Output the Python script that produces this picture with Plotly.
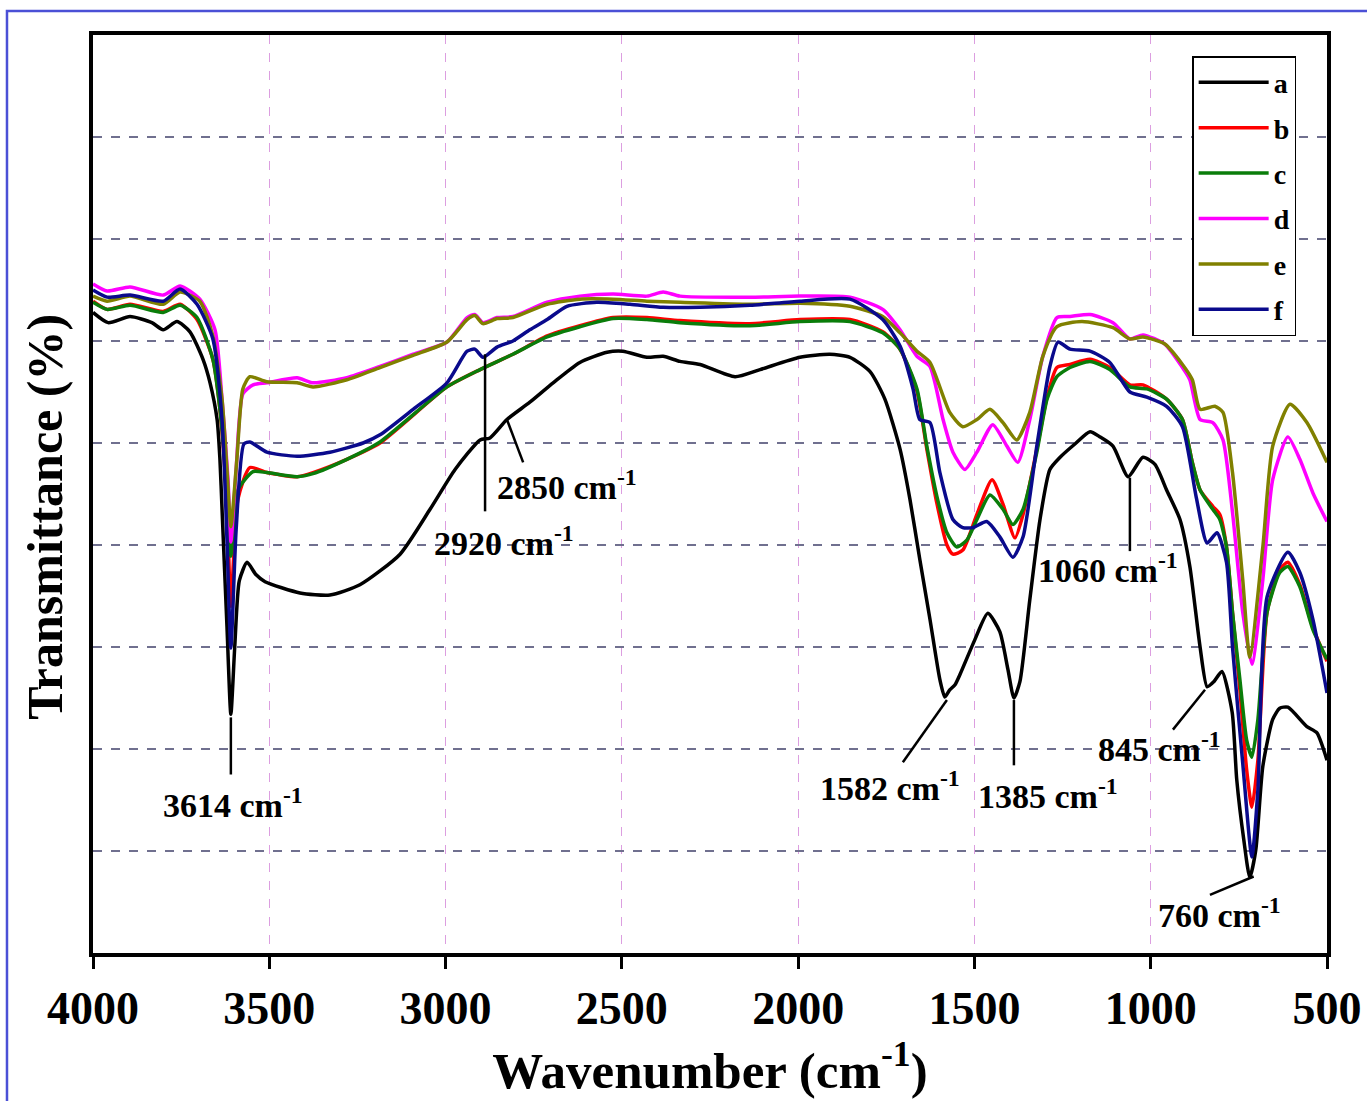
import plotly.graph_objects as go

# ---------------- data ----------------
wn_a = [4000, 3957, 3895, 3833, 3801, 3762, 3725, 3688, 3668, 3648, 3640, 3634, 3620, 3609,
        3598, 3585, 3563, 3538, 3512, 3413, 3328, 3243, 3129, 3044, 2973, 2902, 2874, 2826,
        2761, 2695, 2619, 2542, 2497, 2429, 2383, 2335, 2278, 2179, 2108, 1995, 1910, 1853,
        1796, 1754, 1711, 1683, 1655, 1626, 1598, 1584, 1570, 1555, 1541, 1499, 1462, 1428,
        1405, 1388, 1371, 1343, 1314, 1286, 1257, 1215, 1172, 1144, 1107, 1064, 1022, 988,
        955, 917, 889, 860, 840, 821, 798, 769, 756, 736, 719, 702, 682, 654, 634, 611, 557,
        529, 500]
t_a = [62.8, 61.8, 62.4, 61.8, 61.1, 61.9, 60.9, 58.2, 55.9, 52.3, 48.4, 43.5, 32.0, 23.4,
       30.0, 36.5, 38.3, 37.1, 36.4, 35.3, 35.1, 36.1, 39.1, 43.5, 47.4, 50.3, 50.5, 52.3,
       54.0, 55.9, 57.9, 58.9, 59.0, 58.4, 58.5, 58.0, 57.7, 56.5, 57.2, 58.4, 58.7, 58.4,
       57.0, 54.3, 49.4, 44.5, 38.6, 32.7, 26.8, 25.1, 25.8, 26.3, 27.3, 30.7, 33.3, 31.5,
       27.8, 25.0, 26.6, 34.6, 42.5, 47.4, 48.6, 49.9, 51.1, 50.6, 49.7, 46.7, 48.6, 47.9,
       45.4, 42.5, 37.9, 30.0, 26.1, 26.6, 27.6, 23.6, 17.0, 11.1, 7.4, 10.1, 18.3, 22.9,
       24.0, 24.1, 22.2, 21.6, 18.9]

wn_b = [4000, 3960, 3895, 3801, 3753, 3705, 3660, 3640, 3620, 3609, 3589, 3555, 3507, 3421,
        3376, 3280, 3186, 2996, 2902, 2809, 2712, 2619, 2525, 2429, 2335, 2137, 1995, 1853,
        1760, 1711, 1663, 1635, 1606, 1578, 1561, 1533, 1493, 1450, 1419, 1385, 1362, 1323,
        1294, 1266, 1229, 1172, 1116, 1059, 1022, 955, 910, 882, 860, 824, 804, 785, 768,
        747, 728, 713, 696, 670, 634, 611, 577, 540, 500]
t_b = [63.9, 63.1, 63.6, 62.9, 63.6, 62.1, 58.2, 53.3, 44.0, 34.0, 44.5, 47.6, 47.1, 46.7,
       47.1, 48.4, 50.0, 55.5, 57.2, 58.7, 60.5, 61.5, 62.3, 62.3, 62.0, 61.7, 62.1, 62.1,
       60.9, 59.2, 55.1, 49.4, 44.0, 40.0, 39.1, 39.5, 43.0, 46.4, 44.0, 40.7, 43.0, 49.4,
       54.5, 57.4, 57.7, 58.2, 57.4, 55.7, 55.7, 54.3, 52.3, 48.1, 45.4, 43.8, 43.0, 39.8,
       33.4, 25.8, 18.0, 14.3, 18.9, 33.4, 37.6, 38.3, 36.1, 31.9, 28.6]

wn_c = [4000, 3960, 3895, 3801, 3753, 3705, 3660, 3640, 3620, 3609, 3589, 3546, 3507, 3421,
        3376, 3280, 3186, 2996, 2902, 2809, 2712, 2619, 2525, 2429, 2335, 2137, 1995, 1853,
        1760, 1711, 1663, 1635, 1606, 1578, 1550, 1521, 1493, 1456, 1419, 1391, 1362, 1323,
        1294, 1266, 1229, 1172, 1116, 1059, 1011, 955, 910, 882, 860, 824, 804, 785, 768,
        747, 728, 713, 696, 670, 634, 611, 577, 540, 500]
t_c = [63.8, 63.1, 63.5, 62.8, 63.5, 62.3, 58.2, 53.3, 45.4, 38.9, 45.4, 47.2, 47.1, 46.7,
       47.0, 48.4, 50.1, 55.5, 57.2, 58.7, 60.4, 61.4, 62.2, 62.1, 61.8, 61.5, 61.9, 61.9,
       60.8, 59.2, 55.3, 49.7, 44.7, 41.2, 39.8, 40.5, 42.5, 44.9, 43.5, 42.0, 43.5, 49.1,
       54.3, 56.5, 57.4, 58.0, 57.2, 55.5, 55.3, 54.3, 52.3, 48.1, 45.4, 43.5, 42.5, 39.8,
       33.4, 26.8, 20.9, 19.2, 22.9, 33.4, 37.3, 37.9, 35.9, 31.7, 28.8]

wn_d = [4000, 3960, 3895, 3801, 3753, 3697, 3654, 3634, 3617, 3609, 3594, 3575, 3546, 3507,
        3421, 3376, 3280, 3186, 3092, 2996, 2939, 2917, 2894, 2854, 2809, 2712, 2619, 2525,
        2429, 2383, 2335, 2137, 1995, 1853, 1760, 1711, 1663, 1626, 1589, 1561, 1527, 1493,
        1448, 1408, 1377, 1343, 1306, 1266, 1229, 1172, 1107, 1059, 1022, 960, 910, 889, 860,
        824, 795, 768, 739, 713, 682, 654, 611, 577, 540, 500]
t_d = [65.6, 64.9, 65.3, 64.5, 65.4, 64.1, 61.1, 54.3, 46.4, 40.3, 47.4, 54.8, 55.7, 55.9,
       56.4, 55.9, 56.4, 57.5, 58.7, 59.9, 62.3, 62.6, 61.8, 62.3, 62.4, 63.8, 64.4, 64.6,
       64.4, 64.8, 64.4, 64.3, 64.4, 64.3, 63.1, 61.1, 58.5, 57.5, 52.3, 49.1, 47.4, 49.1,
       51.8, 49.7, 48.1, 52.3, 58.5, 62.3, 62.4, 62.6, 61.8, 60.2, 60.6, 59.7, 57.4, 56.2,
       52.3, 52.0, 50.3, 43.2, 33.4, 28.3, 36.6, 46.4, 50.6, 48.4, 45.1, 42.3]

wn_e = [4000, 3960, 3895, 3801, 3753, 3697, 3660, 3634, 3620, 3609, 3592, 3575, 3555, 3507,
        3421, 3376, 3280, 3186, 3092, 2996, 2939, 2917, 2894, 2854, 2809, 2712, 2619, 2525,
        2429, 2335, 2137, 1995, 1853, 1760, 1711, 1663, 1626, 1570, 1533, 1493, 1456, 1419,
        1380, 1343, 1306, 1266, 1195, 1107, 1059, 1022, 960, 910, 882, 860, 818, 795, 768,
        739, 719, 682, 654, 605, 557, 500]
t_e = [64.4, 63.9, 64.4, 63.6, 64.8, 63.9, 60.5, 54.3, 47.4, 41.8, 48.4, 55.3, 56.5, 56.0,
       55.9, 55.5, 56.2, 57.4, 58.6, 59.9, 62.1, 62.5, 61.7, 62.2, 62.3, 63.6, 64.1, 64.1,
       63.9, 63.8, 63.6, 63.7, 63.4, 62.4, 60.8, 59.0, 57.9, 53.0, 51.6, 52.3, 53.3, 52.0,
       50.3, 53.0, 58.5, 61.4, 61.9, 61.3, 60.2, 60.4, 59.7, 57.7, 56.2, 53.3, 53.6, 53.0,
       47.1, 36.6, 29.0, 39.8, 49.7, 53.8, 52.0, 48.1]

wn_f = [4000, 3960, 3895, 3801, 3753, 3705, 3660, 3634, 3620, 3609, 3594, 3572, 3555, 3507,
        3421, 3328, 3234, 3186, 3092, 2996, 2939, 2917, 2894, 2854, 2809, 2761, 2712, 2656,
        2571, 2477, 2383, 2278, 2137, 1995, 1853, 1760, 1711, 1674, 1655, 1626, 1598, 1561,
        1533, 1504, 1465, 1428, 1391, 1362, 1323, 1286, 1263, 1229, 1172, 1116, 1059, 1011,
        955, 910, 871, 840, 812, 785, 768, 739, 713, 696, 670, 611, 577, 540, 500]
t_f = [65.0, 64.3, 64.5, 63.9, 65.1, 63.6, 60.2, 52.3, 40.5, 29.9, 41.5, 49.9, 50.1, 49.1,
       48.7, 49.1, 50.0, 50.8, 53.3, 55.9, 59.0, 59.2, 58.4, 59.4, 60.0, 61.1, 62.1, 63.4,
       63.8, 63.6, 63.3, 63.3, 63.5, 63.9, 64.1, 62.1, 59.5, 55.3, 52.3, 52.0, 47.1, 42.5,
       41.7, 41.7, 42.3, 40.8, 38.8, 40.8, 49.7, 57.5, 59.9, 59.2, 59.0, 57.9, 55.0, 54.5,
       53.6, 51.6, 44.7, 40.2, 41.2, 38.3, 30.0, 18.6, 9.4, 16.0, 34.9, 39.3, 37.3, 32.7, 25.5]

series_names = ["a", "b", "c", "d", "e", "f"]
series_colors = ["#000000", "#ff0000", "#0a7d0a", "#ff00ff", "#808000", "#0a0a8c"]
series_x = [wn_a, wn_b, wn_c, wn_d, wn_e, wn_f]
series_y = [t_a, t_b, t_c, t_d, t_e, t_f]

x_ticks = [4000, 3500, 3000, 2500, 2000, 1500, 1000, 500]

# peak labels: (text, label x, label y, pointer from (x0,y0) to (x1,y1)) in data units
peak_text = ["3614 cm<sup>-1</sup>", "2920 cm<sup>-1</sup>", "2850 cm<sup>-1</sup>",
             "1582 cm<sup>-1</sup>", "1385 cm<sup>-1</sup>", "1060 cm<sup>-1</sup>",
             "845 cm<sup>-1</sup>", "760 cm<sup>-1</sup>"]
peak_lx = [3603, 2834, 2656, 1740, 1292, 1121, 974, 804]
peak_ly = [14.7, 40.4, 45.9, 16.4, 15.6, 37.7, 20.2, 3.9]
ptr_x0 = [3609, 2888, 2826, 1578, 1388, 1059, 846, 708]
ptr_y0 = [23.1, 58.7, 52.3, 24.8, 24.8, 46.6, 25.8, 7.5]
ptr_x1 = [3609, 2888, 2780, 1703, 1388, 1059, 937, 832]
ptr_y1 = [17.5, 43.3, 48.1, 18.7, 18.4, 39.4, 21.9, 5.7]

FONT = "Liberation Serif"

fig = go.Figure()
for name, col, xs, ys in zip(series_names, series_colors, series_x, series_y):
    fig.add_trace(go.Scatter(
        x=xs, y=ys, mode="lines", name=name, legendgroup=name,
        line=dict(color=col, width=3.5, shape="spline", smoothing=0.6),
    ))

for txt, lx, ly in zip(peak_text, peak_lx, peak_ly):
    fig.add_annotation(x=lx, y=ly, xref="x", yref="y", text=txt, showarrow=False,
                       font=dict(family=FONT, size=34, color="black", weight="bold"),
                       xanchor="center", yanchor="middle")

for x0, y0, x1, y1 in zip(ptr_x0, ptr_y0, ptr_x1, ptr_y1):
    fig.add_shape(type="line", xref="x", yref="y", x0=x0, y0=y0, x1=x1, y1=y1,
                  line=dict(color="black", width=2.5))

# y-axis title
fig.add_annotation(x=-0.039, y=0.475, xref="paper", yref="paper", text="Transmittance (%)",
                   textangle=-90, showarrow=False, xanchor="center", yanchor="middle",
                   font=dict(family=FONT, size=50, color="black", weight="bold"))

# outer blue frame
fig.add_shape(type="rect", xref="paper", yref="paper", x0=-0.0697, y0=-0.3, x1=1.2, y1=1.0261,
              line=dict(color="#4b50d6", width=2.5))

fig.update_layout(
    width=1367, height=1101,
    margin=dict(l=93, r=40, t=35, b=148, autoexpand=False),
    paper_bgcolor="white", plot_bgcolor="white",
    font=dict(family=FONT, color="black"),
    showlegend=True,
    legend=dict(x=0.975, xanchor="right", y=0.977, yanchor="top",
                bgcolor="white", bordercolor="black", borderwidth=1.5,
                font=dict(family=FONT, size=28, color="black", weight="bold"),
                tracegroupgap=6, itemwidth=70),
    xaxis=dict(range=[4000, 500], tickvals=x_ticks, ticktext=[str(v) for v in x_ticks],
               automargin=False,
               showline=True, linewidth=4, linecolor="black", mirror=True,
               ticks="outside", ticklen=12, tickwidth=3, tickcolor="black",
               showgrid=True, gridcolor="#dc9ee0", griddash="dash", gridwidth=1,
               zeroline=False,
               tickfont=dict(family=FONT, size=46, color="black", weight="bold"),
               title=dict(text="Wavenumber (cm<sup>-1</sup>)", standoff=14,
                          font=dict(family=FONT, size=51, color="black", weight="bold"))),
    yaxis=dict(range=[0, 90], dtick=10, showticklabels=False, ticks="",
               automargin=False,
               showline=True, linewidth=4, linecolor="black", mirror=True,
               showgrid=True, gridcolor="#70708f", griddash="dash", gridwidth=1.5,
               zeroline=False),
)

fig.write_html("out.html")
